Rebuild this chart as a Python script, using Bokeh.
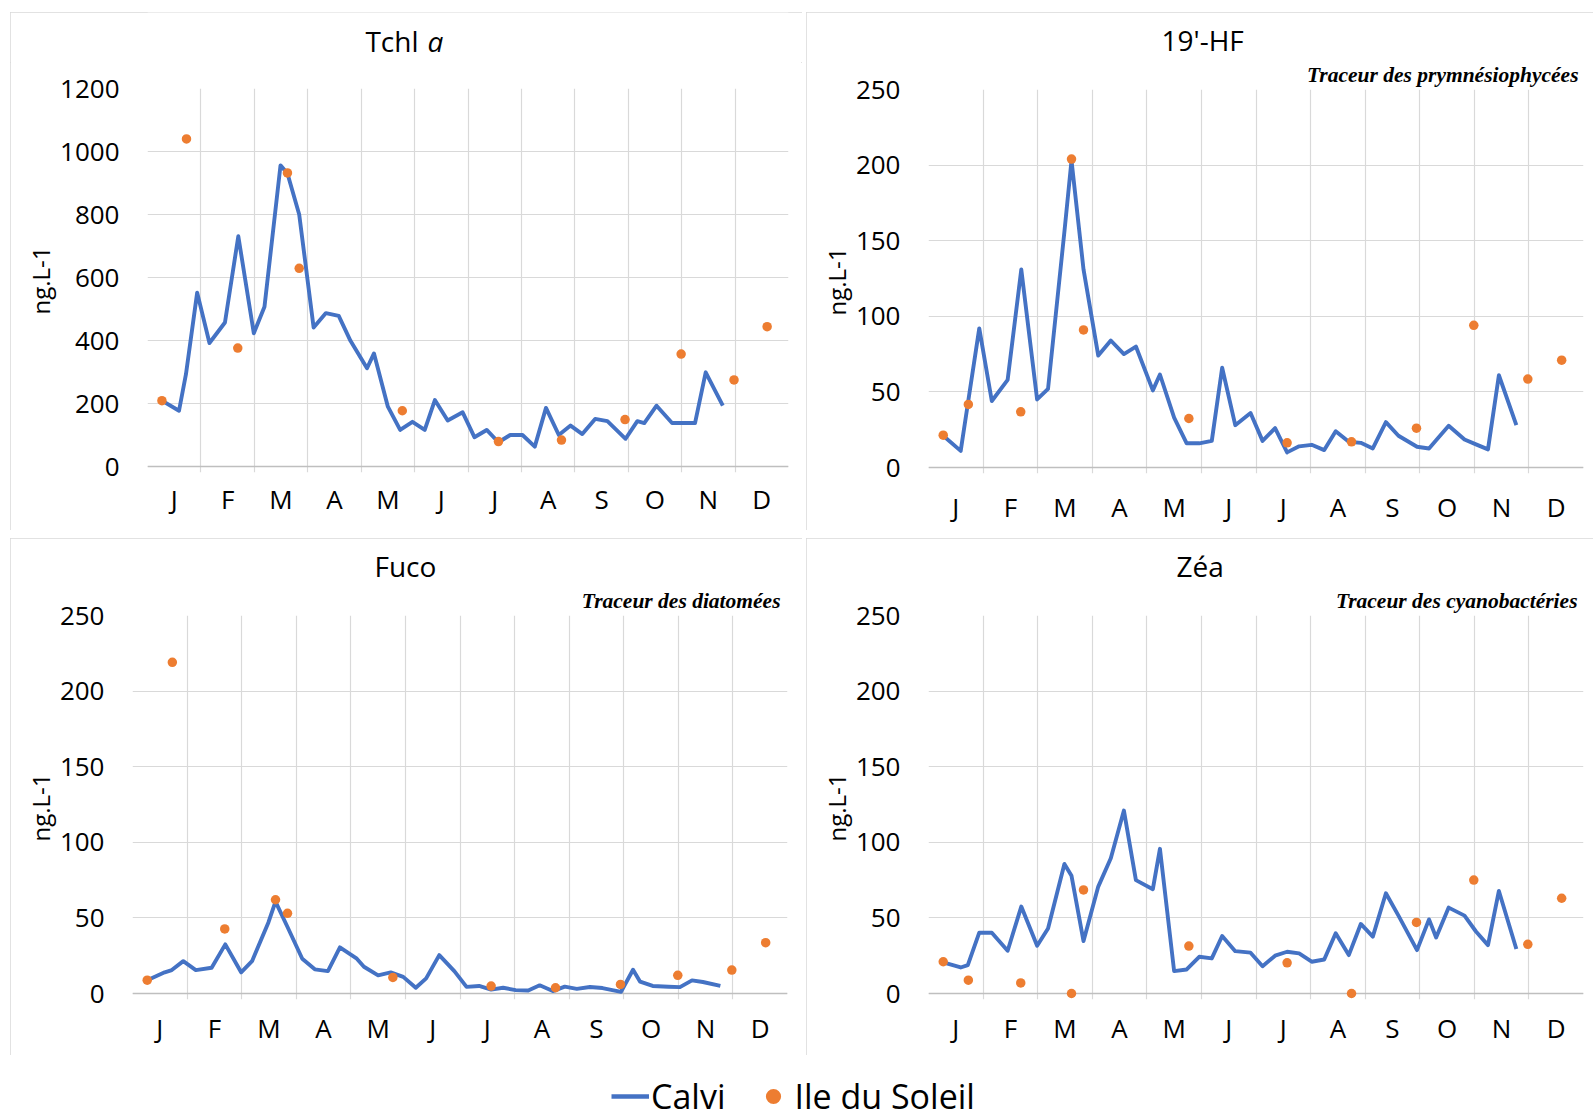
from bokeh.plotting import figure
from bokeh.models import Range1d, FixedTicker, CustomJSTickFormatter, Title, Span, Legend
from bokeh.layouts import column, row
from bokeh.embed import file_html
from bokeh.resources import INLINE
from bokeh.core.properties import value

# ---------------- data ----------------
months = ["J", "F", "M", "A", "M", "J", "J", "A", "S", "O", "N", "D"]

# sampling dates, in months from 1 January
calvi_x = [0.27, 0.59, 0.72, 0.93, 1.16, 1.45, 1.70, 1.99, 2.19, 2.49,
           2.62, 2.84, 3.11, 3.34, 3.58, 3.80, 4.11, 4.24, 4.50, 4.73,
           4.96, 5.19, 5.38, 5.62, 5.90, 6.12, 6.35, 6.57, 6.79, 7.02,
           7.25, 7.46, 7.70, 7.92, 8.14, 8.38, 8.61, 8.95, 9.17, 9.30,
           9.53, 9.82, 10.03, 10.25, 10.45, 10.77]
soleil_x = [0.27, 0.73, 1.69, 2.62, 2.84, 4.77, 6.57, 7.75, 8.94, 9.99, 10.98, 11.60]

tchl_calvi = [209, 177, 293, 552, 392, 457, 731, 423, 507, 956,
              930, 800, 441, 487, 478, 399, 312, 359, 190, 116,
              142, 116, 211, 146, 172, 93, 116, 77, 100, 100,
              63, 186, 100, 130, 103, 151, 144, 88, 144, 138,
              193, 138, 138, 138, 299, 193]
tchl_soleil = [209, 1040, 376, 932, 629, 177, 79, 84, 149, 357, 275, 444]

hf_calvi = [21, 11, 42, 92, 44, 58, 131, 45, 52, 156,
            203, 131, 74, 84, 75, 80, 51, 61.5, 33, 16,
            16, 17.6, 66, 28, 36, 17.6, 26, 10, 14, 15,
            11.5, 24, 17, 16.3, 12.6, 30, 21, 13.7, 12.6, 18,
            27.6, 18.5, 15.3, 12, 61, 28]
hf_soleil = [21.4, 41.7, 36.8, 204, 91, 32.4, 16.3, 17, 26, 94, 58.5, 71]

fuco_calvi = [8.8, 14, 15.5, 21.4, 15.5, 17, 32.5, 14, 21.4, 47,
              60.8, 44, 23, 16, 14.8, 30.5, 23, 17.7, 12, 14,
              11, 3.8, 10, 25.4, 14.6, 4.4, 5, 2.6, 3.8, 2.2,
              2, 5.4, 1.6, 4.5, 3.1, 4.3, 3.6, 1.1, 15.7, 7.8,
              5, 4.5, 4.2, 8.7, 7.6, 5]
fuco_soleil = [8.8, 219, 42.7, 62, 53, 10.6, 4.9, 3.8, 6, 12, 15.5, 33.6]

zea_calvi = [20.6, 17.2, 18.8, 40.2, 40.2, 28.3, 57.5, 31.6, 43, 85.7,
             77.8, 34.7, 70.7, 89.5, 121, 75, 69, 95.7, 14.8, 15.9,
             24.3, 23.2, 38, 28, 27, 18, 25, 27.6, 26.5, 21,
             22.5, 39.8, 25.4, 46, 37.6, 66.3, 51.5, 28.7, 49, 37,
             56.8, 51.5, 41, 32, 67.8, 29.4]
zea_soleil = [21, 8.8, 7, 0, 68.5, 31.4, 20.3, 0, 47, 75, 32.5, 63]

# ---------------- style ----------------
BLUE = "#4472C4"
ORANGE = "#ED7D31"
GRID = "#D9D9D9"
AXIS = "#BFBFBF"
FONT = "Open Sans"
SERIF = "Liberation Serif"
BORDER = {"outline": "1px solid #D9D9D9", "outline-offset": "-1px"}

FRAME_H = 384      # frame height (px), includes 6px below zero
ZERO_PAD = 6


def panel(width, height, left, right, top, ymax, ystep, title, subtitle,
          title_offset, sub_offset, calvi, soleil, xstandoff, border=True):
    span_units = ymax * ZERO_PAD / (FRAME_H - ZERO_PAD)
    p = figure(width=width, height=height, title=None, toolbar_location=None,
               output_backend="svg",
               x_range=Range1d(0, 12), y_range=Range1d(-span_units, ymax),
               min_border_left=left, min_border_right=right,
               min_border_top=top, min_border_bottom=height - top - FRAME_H,
               outline_line_color=None, background_fill_color="white",
               border_fill_color="white")
    if border:
        p.styles = BORDER

    yt = list(range(0, ymax + 1, ystep))
    p.yaxis.ticker = FixedTicker(ticks=yt)
    p.ygrid.ticker = FixedTicker(ticks=yt)
    p.xaxis.ticker = FixedTicker(ticks=[i + 0.5 for i in range(12)])
    p.xgrid.ticker = FixedTicker(ticks=list(range(13)))
    p.xaxis.formatter = CustomJSTickFormatter(args=dict(labels=months),
                                              code="return labels[Math.floor(tick)]")
    for g in (p.xgrid, p.ygrid):
        g.grid_line_color = GRID
        g.grid_line_width = 1.2

    for ax in (p.xaxis, p.yaxis):
        ax.axis_line_color = None
        ax.major_tick_line_color = None
        ax.minor_tick_line_color = None
        ax.major_tick_out = 0
        ax.major_tick_in = 0
        ax.major_label_text_font = FONT
        ax.major_label_text_font_size = "26px"
        ax.major_label_text_color = "black"
    p.yaxis.major_label_standoff = 28
    p.xaxis.major_label_standoff = xstandoff
    p.yaxis.axis_label = "ng.L-1"
    p.yaxis.axis_label_text_font = FONT
    p.yaxis.axis_label_text_font_size = "24px"
    p.yaxis.axis_label_text_font_style = "normal"
    p.yaxis.axis_label_text_color = "black"
    p.yaxis.axis_label_standoff = 0

    zero = Span(location=0, dimension="width", line_color=AXIS, line_width=1.5,
                level="underlay")
    p.add_layout(zero)

    p.line(calvi_x, calvi, line_color=BLUE, line_width=3.9, line_join="round")
    p.scatter(soleil_x, soleil, size=9.5, fill_color=ORANGE, line_color=None)

    if subtitle:
        p.add_layout(Title(text=subtitle, align="right", offset=sub_offset,
                           text_font=SERIF, text_font_style="bold italic",
                           text_font_size="21.5px", text_color="black",
                           standoff=5), "above")
    if title:
        p.add_layout(Title(text=title, align="left", offset=title_offset,
                           text_font=FONT, text_font_style="normal",
                           text_font_size="28px", text_color="black",
                           standoff=0), "above")
    return p


# ----- Tchl panel: a title strip (for "Tchl a" with an italic a) over the chart
TSTRIP = 50
tf = figure(width=792, height=TSTRIP, toolbar_location=None, output_backend="svg",
            x_range=Range1d(0, 12), y_range=Range1d(0, TSTRIP),
            min_border_left=137, min_border_right=14, min_border_top=0,
            min_border_bottom=0, outline_line_color=None, title=None,
            background_fill_color="white", border_fill_color="white")
tf.axis.visible = False
tf.grid.visible = False
tf.text(x=[4.08], y=[22], text=["Tchl"], text_font=value(FONT),
        text_font_size=value("28px"), text_color="black",
        text_baseline="alphabetic", text_align="left")
tf.text(x=[5.24], y=[22], text=["a"], text_font=value(FONT),
        text_font_size=value("28px"), text_font_style="italic", text_color="black",
        text_baseline="alphabetic", text_align="left")

p1 = panel(792, 518 - TSTRIP, 137, 14, 76 - TSTRIP, 1200, 200, None, None, 0, 0,
           tchl_calvi, tchl_soleil, 8, border=False)
c1 = column(tf, p1, spacing=0)
c1.styles = BORDER

p2 = panel(787, 518, 122, 10, 77, 250, 50, "19'-HF", "Traceur des prymnésiophycées",
           233, 5, hf_calvi, hf_soleil, 15)
p3 = panel(792, 517, 122, 15, 77, 250, 50, "Fuco", "Traceur des diatomées",
           242, 7, fuco_calvi, fuco_soleil, 10)
p4 = panel(787, 517, 122, 10, 77, 250, 50, "Zéa", "Traceur des cyanobactéries",
           248, 6, zea_calvi, zea_soleil, 10)

# legend strip
pl = figure(width=1593, height=56, toolbar_location=None, output_backend="svg",
            x_range=Range1d(0, 1), y_range=Range1d(0, 1), min_border=0,
            outline_line_color=None, title=None)
pl.axis.visible = False
pl.grid.visible = False
r1 = pl.line([-5, -4], [-5, -4], line_color=BLUE, line_width=4.5)
r2 = pl.scatter([-5], [-5], size=15, fill_color=ORANGE, line_color=None)
leg = Legend(items=[("Calvi", [r1]), ("Ile du Soleil", [r2])],
             orientation="horizontal", location=(611, 0),
             label_text_font=FONT, label_text_font_size="34px",
             label_text_color="black", glyph_width=38, glyph_height=38,
             label_standoff=2, spacing=29, padding=0, margin=0,
             border_line_color=None, background_fill_alpha=0)
pl.add_layout(leg, "center")

layout = column(row(c1, p2, spacing=4, margin=(0, 0, 0, 10)),
                row(p3, p4, spacing=4, margin=(0, 0, 0, 10)),
                pl, spacing=8, margin=(12, 0, 0, 0))

open("out.html", "w").write(file_html(layout, INLINE))
